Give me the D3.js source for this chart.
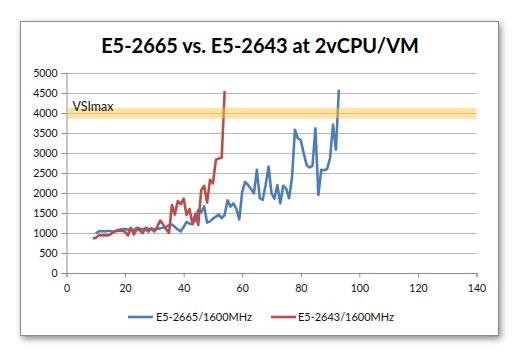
<!DOCTYPE html>
<html><head><meta charset="utf-8">
<script src="https://cdn.jsdelivr.net/npm/d3@7/dist/d3.min.js"></script>
<style>
html,body{margin:0;padding:0;background:#fff;}
svg{display:block;}
text{font-family:Lato,"Liberation Sans",Arial,sans-serif;}
</style></head>
<body>
<svg id="c" width="520" height="356"></svg>
<script>
const title = "E5-2665 vs. E5-2643 at 2vCPU/VM";
const xTicks = [0,20,40,60,80,100,120,140];
const yTicks = [0,500,1000,1500,2000,2500,3000,3500,4000,4500,5000];
const seriesNames = ["E5-2665/1600MHz","E5-2643/1600MHz"];
const seriesColors = ["#4a7ebb","#be4b48"];
const blueX = d3.range(10,94);
const blueY = [990,1040,1050,1040,1050,1050,1020,1060,1080,1090,
 1100,1080,1110,1060,1130,1110,1100,1090,1030,1120,
 1080,1100,1120,1130,1150,1200,1210,1150,1090,1040,
 1150,1280,1230,1220,1330,1580,1520,1670,1260,1290,
 1360,1410,1460,1370,1450,1820,1660,1740,1600,1340,
 2030,2280,2200,2100,1990,2580,1870,1830,2200,2660,
 1990,1860,2200,1740,2180,2110,1870,2380,3580,3370,
 3320,2990,2700,2640,2680,3620,1950,2580,2570,2600,
 2870,3710,3080,4580];
const redX = d3.range(9,55);
const redY = [860,880,940,940,940,940,960,1030,1050,1060,
 1060,1030,940,1130,960,1100,1070,1000,1130,1100,
 1100,1040,1160,1310,1210,1100,1000,1700,1460,1800,
 1720,1860,1450,1600,1230,1480,1200,2070,2180,1760,
 2330,2240,2830,2860,2880,4550];
const vsiLabel = "VSImax";
const vsiLow = 3860, vsiHigh = 4130;

const svg = d3.select("#c");
const defs = svg.append("defs");
const f = defs.append("filter").attr("id","sh").attr("x","-10%").attr("y","-10%").attr("width","120%").attr("height","125%");
f.append("feDropShadow").attr("dx",2).attr("dy",3).attr("stdDeviation",3).attr("flood-color","#000").attr("flood-opacity",0.45);

svg.append("rect").attr("x",20.5).attr("y",21.5).attr("width",478).attr("height",314)
  .attr("fill","#fff").attr("stroke","#8c8c8c").attr("stroke-width",1).attr("filter","url(#sh)");

const x = d3.scaleLinear().domain([0,140]).range([66.5,476.5]);
const y = d3.scaleLinear().domain([0,5000]).range([273,73]);

// gridlines
svg.append("g").selectAll("line").data(yTicks.filter(d=>d>0)).join("line")
  .attr("x1",x(0)).attr("x2",x(140)).attr("y1",d=>Math.round(y(d))+0.5).attr("y2",d=>Math.round(y(d))+0.5)
  .attr("stroke","#b8b8b8").attr("stroke-width",1.2);

// axes
const ya = svg.append("g").attr("transform",`translate(${x(0)},0)`)
  .call(d3.axisLeft(y).tickValues(yTicks).tickSize(5).tickPadding(4).tickFormat(d3.format("d")));
const xa = svg.append("g").attr("transform",`translate(0,${y(0)})`)
  .call(d3.axisBottom(x).tickValues(xTicks).tickSize(4).tickPadding(8).tickFormat(d3.format("d")));
[ya,xa].forEach(a=>{
  a.select(".domain").attr("stroke","#8c8c8c");
  a.selectAll(".tick line").attr("stroke","#8c8c8c");
  a.selectAll("text").attr("font-size",10.5).attr("fill","#111").attr("font-family","Lato, Liberation Sans, Arial, sans-serif");
});

// lines
const line = d3.line().x(d=>x(d[0])).y(d=>y(d[1]));
const blue = blueX.map((v,i)=>[v,blueY[i]]);
const red = redX.map((v,i)=>[v,redY[i]]);
svg.append("path").datum(blue).attr("d",line).attr("fill","none").attr("stroke",seriesColors[0]).attr("stroke-width",2.6).attr("stroke-linejoin","round");
svg.append("path").datum(red).attr("d",line).attr("fill","none").attr("stroke",seriesColors[1]).attr("stroke-width",2.6).attr("stroke-linejoin","round");

// VSImax band
svg.append("rect").attr("x",x(0)).attr("width",x(140)-x(0)).attr("y",y(vsiHigh)).attr("height",y(vsiLow)-y(vsiHigh))
  .attr("fill","rgb(253,200,70)").attr("fill-opacity",0.5);
const vt = svg.append("text").attr("x",x(0)+6).attr("y",y(vsiHigh)+3).attr("font-size",12).attr("fill","#111").text(vsiLabel);
vt.attr("font-size",12*41/vt.node().getComputedTextLength());

// title
const t = svg.append("text").attr("x",260).attr("y",53).attr("text-anchor","middle")
  .attr("font-weight","bold").attr("font-size",20).attr("fill","#000").text(title);
const tw = t.node().getComputedTextLength();
t.attr("font-size",20*318/tw);

// legend
const lg = svg.append("g");
[[128,156],[271,298]].forEach((p,i)=>{
  lg.append("line").attr("x1",p[0]).attr("x2",p[0]+25).attr("y1",317).attr("y2",317).attr("stroke",seriesColors[i]).attr("stroke-width",2.6);
  const tt = lg.append("text").attr("x",p[1]).attr("y",321).attr("font-size",11).attr("fill","#111").text(seriesNames[i]);
  const w = tt.node().getComputedTextLength();
  tt.attr("font-size",11*96/w);
});
</script>
</body></html>
